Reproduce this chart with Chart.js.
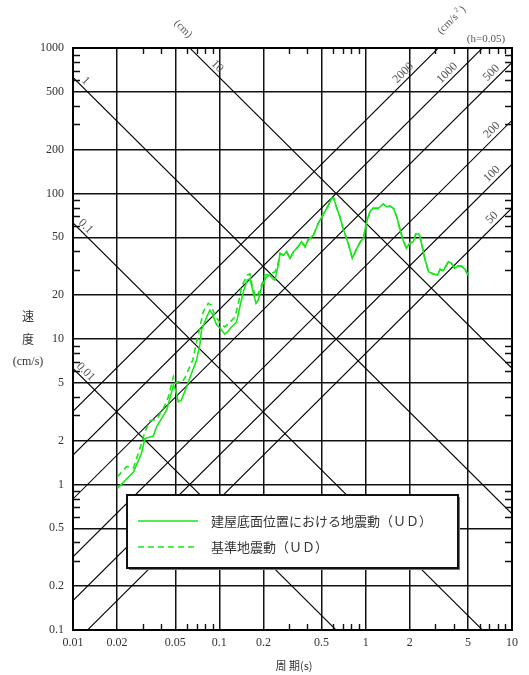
<!DOCTYPE html>
<html>
<head>
<meta charset="utf-8">
<script src="https://cdn.jsdelivr.net/npm/chart.js@4.4.0/dist/chart.umd.min.js"></script>
<style>
  html, body { margin: 0; padding: 0; background: #fff; }
</style>
</head>
<body>
<canvas id="spectrumChart" width="529" height="675"></canvas>
<script>
// === Data ===
const periodBuilding = [
    0.0201, 0.0259, 0.0294, 0.031, 0.0354, 0.0373, 0.0404, 0.0437, 0.0473, 0.0485,
    0.050, 0.0525, 0.055, 0.0598, 0.0633, 0.070, 0.0738, 0.0755, 0.082, 0.0862,
    0.090, 0.0958, 0.101, 0.109, 0.115, 0.121, 0.131, 0.138, 0.146, 0.155,
    0.162, 0.171, 0.178, 0.185, 0.195, 0.21, 0.222, 0.231, 0.24, 0.254,
    0.26, 0.274, 0.288, 0.304, 0.321, 0.345, 0.364, 0.386, 0.404, 0.44,
    0.474, 0.51, 0.55, 0.585, 0.606, 0.63, 0.666, 0.70, 0.76, 0.81,
    0.87, 0.92, 0.964, 1.01, 1.07, 1.12, 1.22, 1.32, 1.39, 1.47,
    1.55, 1.63, 1.71, 1.8, 1.9, 2.0, 2.12, 2.2, 2.32, 2.42,
    2.55, 2.69, 2.9, 3.1, 3.23, 3.4, 3.67, 3.86, 4.06, 4.27,
    4.5, 4.78, 5.0
];
const velocityBuilding = [
    0.94, 1.22, 1.64, 2.07, 2.15, 2.5, 2.85, 3.25, 4.35, 4.83,
    4.5, 3.7, 3.8, 4.7, 5.5, 7.2, 9.3, 11.5, 14.2, 15.8,
    14.7, 12.5, 11.9, 10.8, 11.3, 12.1, 13, 16.6, 21.1, 25.4,
    26, 20.6, 17.6, 18.6, 22.9, 26.8, 27.5, 26, 25.4, 33.1,
    38.8, 37.6, 39.8, 35.8, 39.8, 43, 46.6, 43, 47.9, 51.7,
    62.4, 71.1, 81.1, 92.7, 92.7, 81, 69.3, 57.7, 45.5, 35.9,
    42, 46.6, 49, 62.4, 75, 79, 79, 84.7, 81, 82,
    79, 69.3, 57.7, 47.9, 42, 45.5, 46.6, 52.7, 52.7, 44.6,
    34.9, 29, 28, 27.5, 30.1, 29.5, 34, 33.1, 30.6, 31.7,
    31.7, 30.1, 27.5
];
const periodBase = [
    0.0201, 0.0233, 0.0259, 0.0272, 0.0294, 0.031, 0.0336, 0.0373, 0.0414, 0.0449,
    0.0473, 0.0485, 0.050, 0.0525, 0.055, 0.058, 0.063, 0.066, 0.070, 0.0738,
    0.0776, 0.084, 0.088, 0.093, 0.101, 0.109, 0.118, 0.128, 0.135, 0.142,
    0.155, 0.162, 0.168, 0.178, 0.189, 0.205, 0.222, 0.24, 0.25,
    0.26, 0.274, 0.288, 0.304, 0.321, 0.345, 0.364, 0.386, 0.404, 0.44,
    0.474, 0.51, 0.55, 0.585, 0.606, 0.63, 0.666, 0.70, 0.76, 0.81,
    0.87, 0.92, 0.964, 1.01, 1.07, 1.12, 1.22, 1.32, 1.39, 1.47,
    1.55, 1.63, 1.71, 1.8, 1.9, 2.0, 2.12, 2.2, 2.32, 2.42,
    2.55, 2.69, 2.9, 3.1, 3.23, 3.4, 3.67, 3.86, 4.06, 4.27,
    4.5, 4.78, 5.0
];
const velocityBase = [
    1.13, 1.33, 1.3, 1.51, 1.92, 2.3, 2.75, 2.8, 3.34, 4.0,
    4.96, 5.5, 4.96, 5.1, 5.0, 5.37, 6.5, 7.2, 9.6, 12.1,
    15.4, 17.6, 17.1, 14.7, 12.9, 12.1, 13, 14.2, 17.6, 22.9,
    27.5, 28, 22.9, 19.2, 21.6, 27.5, 28, 28.9, 31.9,
    38.8, 37.6, 39.8, 35.8, 39.8, 43, 46.6, 43, 47.9, 51.7,
    62.4, 71.1, 81.1, 92.7, 92.7, 81, 69.3, 57.7, 45.5, 35.9,
    42, 46.6, 49, 62.4, 75, 79, 79, 84.7, 81, 82,
    79, 69.3, 57.7, 47.9, 42, 45.5, 46.6, 52.7, 52.7, 44.6,
    34.9, 29, 28, 27.5, 30.1, 29.5, 34, 33.1, 30.6, 31.7,
    31.7, 30.1, 27.5
];

const seriesNames = ["建屋底面位置における地震動（ＵＤ）", "基準地震動（ＵＤ）"];

// tripartite guide lines (displacement in cm, acceleration in cm/s2)
const dispLevels = [0.01, 0.1, 1, 10];
const dispLabels = ["0.01", "0.1", "1", "10"];
const accLevels = [50, 100, 200, 500, 1000, 2000];
const accLabels = ["50", "100", "200", "500", "1000", "2000"];

const xTickLabels = [0.01, 0.02, 0.05, 0.1, 0.2, 0.5, 1, 2, 5, 10];
const yTickLabels = [0.1, 0.2, 0.5, 1, 2, 5, 10, 20, 50, 100, 200, 500, 1000];

const X_MIN = 0.01, X_MAX = 10, Y_MIN = 0.1, Y_MAX = 1000;
const TWO_PI = 2 * Math.PI;

const NUM_FONT = "'Liberation Serif', 'DejaVu Serif', serif";
const JP_FONT = "'Noto Sans CJK JP', sans-serif";
const TEXT_COLOR = "#333";
const CURVE_COLOR = "#19e619";

// === helpers ===
function mantissa(v) {
    const e = Math.floor(Math.log10(v) + 1e-9);
    return Math.round(v / Math.pow(10, e));
}
function decadeTicks(min, max) {
    const out = [];
    for (let e = Math.round(Math.log10(min)); e < Math.round(Math.log10(max)); e++) {
        for (let m = 1; m <= 9; m++) out.push(+(m * Math.pow(10, e)).toPrecision(6));
    }
    out.push(max);
    return out;
}
function isMajor(v) {
    return [1, 2, 5].includes(mantissa(v));
}
function labelFor(list, value) {
    const hit = list.find(t => Math.abs(Math.log10(t / value)) < 1e-6);
    return hit === undefined ? "" : String(hit);
}
function toPoints(xs, ys) {
    return xs.map((x, i) => ({ x: x, y: ys[i] }));
}

// === datasets ===
const datasets = [
    {
        label: seriesNames[0],
        data: toPoints(periodBuilding, velocityBuilding),
        borderColor: CURVE_COLOR,
        borderWidth: 1.6,
        pointRadius: 0,
        showLine: true,
        order: 0
    },
    {
        label: seriesNames[1],
        data: toPoints(periodBase, velocityBase),
        borderColor: CURVE_COLOR,
        borderWidth: 1.6,
        borderDash: [6, 4],
        pointRadius: 0,
        showLine: true,
        order: 0
    }
];
dispLevels.forEach(d => {
    datasets.push({
        label: "D" + d,
        data: [{ x: X_MIN, y: TWO_PI * d / X_MIN }, { x: X_MAX, y: TWO_PI * d / X_MAX }],
        borderColor: "#000",
        borderWidth: 1.1,
        pointRadius: 0,
        showLine: true,
        order: 1
    });
});
accLevels.forEach(a => {
    datasets.push({
        label: "A" + a,
        data: [{ x: X_MIN, y: a * X_MIN / TWO_PI }, { x: X_MAX, y: a * X_MAX / TWO_PI }],
        borderColor: "#000",
        borderWidth: 1.1,
        pointRadius: 0,
        showLine: true,
        order: 1
    });
});

// === custom drawing: inner ticks, frame, guide labels, legend, titles ===
const overlayPlugin = {
    id: "overlay",
    afterDatasetsDraw(chart) {
        const { ctx, chartArea: a, scales: { x, y } } = chart;
        ctx.save();

        // minor tick marks pointing inward
        ctx.strokeStyle = "#111";
        ctx.lineWidth = 1.4;
        ctx.beginPath();
        decadeTicks(X_MIN, X_MAX).forEach(v => {
            if (isMajor(v)) return;
            const px = Math.round(x.getPixelForValue(v)) + 0.5;
            ctx.moveTo(px, a.top); ctx.lineTo(px, a.top + 6);
            ctx.moveTo(px, a.bottom); ctx.lineTo(px, a.bottom - 6);
        });
        decadeTicks(Y_MIN, Y_MAX).forEach(v => {
            if (isMajor(v)) return;
            const py = Math.round(y.getPixelForValue(v)) + 0.5;
            ctx.moveTo(a.left, py); ctx.lineTo(a.left + 7, py);
            ctx.moveTo(a.right, py); ctx.lineTo(a.right - 7, py);
        });
        ctx.stroke();

        // frame
        ctx.lineWidth = 2;
        ctx.strokeStyle = "#000";
        ctx.strokeRect(a.left, a.top, a.right - a.left, a.bottom - a.top);

        // guide line labels
        ctx.fillStyle = "#555";
        ctx.font = "12px " + NUM_FONT;
        ctx.textAlign = "center";
        ctx.textBaseline = "middle";
        dispLevels.forEach((d, i) => {
            const t = Math.max(0.0122, TWO_PI * d / 650);
            const px = x.getPixelForValue(t);
            const py = y.getPixelForValue(TWO_PI * d / t) - 9;
            ctx.save();
            ctx.translate(px, py);
            ctx.rotate(Math.PI / 4);
            ctx.fillText(dispLabels[i], 0, 0);
            ctx.restore();
        });
        accLevels.forEach((acc, i) => {
            const t = Math.min(7.3, 575 * TWO_PI / acc);
            const px = x.getPixelForValue(t);
            const py = y.getPixelForValue(acc * t / TWO_PI) - 10;
            ctx.save();
            ctx.translate(px, py);
            ctx.rotate(-Math.PI / 4);
            ctx.fillText(accLabels[i], 0, 0);
            ctx.restore();
        });

        // unit labels above the plot
        ctx.font = "11px " + NUM_FONT;
        ctx.save();
        ctx.translate(183, 29);
        ctx.rotate(Math.PI / 4);
        ctx.fillText("(cm)", 0, 0);
        ctx.restore();
        ctx.save();
        ctx.translate(450, 22);
        ctx.rotate(-Math.PI / 4);
        ctx.fillText("(cm/s", -3, 0);
        ctx.font = "7px " + NUM_FONT;
        ctx.fillText("2", 13, -4);
        ctx.font = "11px " + NUM_FONT;
        ctx.fillText(")", 18, 0);
        ctx.restore();
        ctx.fillText("(h=0.05)", 486, 39);

        // legend box
        const lx = 127, ly = 495, lw = 331, lh = 73;
        ctx.fillStyle = "#777";
        ctx.fillRect(lx + 2, ly + 2, lw, lh);
        ctx.fillStyle = "#fff";
        ctx.fillRect(lx, ly, lw, lh);
        ctx.lineWidth = 2;
        ctx.strokeStyle = "#111";
        ctx.strokeRect(lx, ly, lw, lh);

        const rows = [521, 547];
        chart.data.datasets.slice(0, 2).forEach((ds, i) => {
            ctx.beginPath();
            ctx.setLineDash(ds.borderDash || []);
            ctx.strokeStyle = ds.borderColor;
            ctx.lineWidth = ds.borderWidth;
            ctx.moveTo(138, rows[i]);
            ctx.lineTo(198, rows[i]);
            ctx.stroke();
            ctx.setLineDash([]);
            ctx.fillStyle = TEXT_COLOR;
            ctx.font = "13px " + JP_FONT;
            ctx.textAlign = "left";
            ctx.fillText(ds.label, 211, rows[i]);
        });

        // axis titles
        ctx.fillStyle = TEXT_COLOR;
        ctx.textAlign = "center";
        ctx.font = "12px " + JP_FONT;
        ctx.fillText("速", 28, 316);
        ctx.fillText("度", 28, 339);
        ctx.font = "12px " + NUM_FONT;
        ctx.fillText("(cm/s)", 28, 362);
        ctx.font = "11px " + JP_FONT;
        ctx.fillText("周 期(s)", 294, 666);

        ctx.restore();
    }
};

const gridColor = (c) => (c.tick && isMajor(c.tick.value)) ? "#111" : "rgba(0,0,0,0)";

new Chart(document.getElementById("spectrumChart"), {
    type: "scatter",
    data: { datasets: datasets },
    options: {
        responsive: false,
        animation: false,
        devicePixelRatio: 1,
        layout: { padding: { left: 0, right: 17, top: 48, bottom: 0 } },
        plugins: {
            legend: { display: false },
            tooltip: { enabled: false }
        },
        scales: {
            x: {
                type: "logarithmic",
                min: X_MIN,
                max: X_MAX,
                afterBuildTicks: scale => { scale.ticks = decadeTicks(X_MIN, X_MAX).map(v => ({ value: v })); },
                afterFit: scale => { scale.height = 45; },
                grid: { color: gridColor, lineWidth: 1.5, drawTicks: false },
                border: { display: false },
                ticks: {
                    autoSkip: false,
                    maxRotation: 0,
                    padding: 6,
                    color: TEXT_COLOR,
                    font: { family: NUM_FONT, size: 12 },
                    callback: value => labelFor(xTickLabels, value)
                }
            },
            y: {
                type: "logarithmic",
                min: Y_MIN,
                max: Y_MAX,
                afterBuildTicks: scale => { scale.ticks = decadeTicks(Y_MIN, Y_MAX).map(v => ({ value: v })); },
                afterFit: scale => { scale.width = 73; },
                grid: { color: gridColor, lineWidth: 1.5, drawTicks: false },
                border: { display: false },
                ticks: {
                    autoSkip: false,
                    padding: 9,
                    color: TEXT_COLOR,
                    font: { family: NUM_FONT, size: 12 },
                    callback: value => labelFor(yTickLabels, value)
                }
            }
        }
    },
    plugins: [overlayPlugin]
});
</script>
</body>
</html>
